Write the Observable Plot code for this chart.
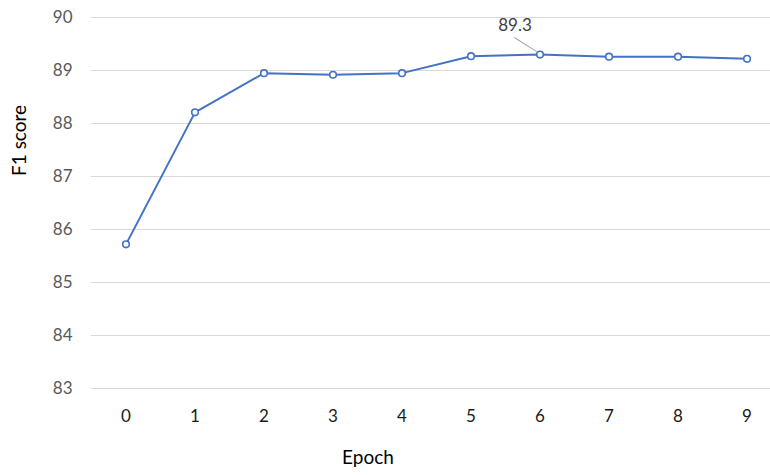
<!DOCTYPE html>
<html>
<head>
<meta charset="utf-8">
<script src="https://cdn.jsdelivr.net/npm/d3@7"></script>
<script src="https://cdn.jsdelivr.net/npm/@observablehq/plot@0.6"></script>
<style>
  html, body { margin: 0; padding: 0; background: #fff; }
  #chart svg { display: block; }
</style>
</head>
<body>
<div id="chart"></div>
<script>
const epochs = [0, 1, 2, 3, 4, 5, 6, 7, 8, 9];
const f1Scores = [85.72, 88.21, 88.95, 88.92, 88.95, 89.27, 89.30, 89.26, 89.26, 89.22];
const yTicks = [83, 84, 85, 86, 87, 88, 89, 90];
const xLabel = "Epoch";
const yLabel = "F1 score";
const peakLabel = "89.3";

const data = epochs.map((e, i) => ({epoch: e, f1: f1Scores[i]}));
const peak = data.reduce((a, b) => (b.f1 > a.f1 ? b : a));

const leader = {
  draw(context, l) {
    context.moveTo(0, 0);
    context.lineTo(0, -l);
  }
};

const chart = Plot.plot({
  width: 770,
  height: 475,
  marginLeft: 91,
  marginRight: 0,
  marginTop: 17,
  marginBottom: 87,
  style: {fontFamily: "Lato, sans-serif", background: "#fff"},
  x: {type: "linear", domain: [-0.5, 9.34], label: null},
  y: {domain: [83, 90], label: null},
  marks: [
    Plot.ruleY(yTicks, {stroke: "#d9d9d9", strokeWidth: 1}),
    Plot.axisX({ticks: epochs, tickSize: 0, tickPadding: 21, tickFormat: d => String(d), fontSize: 17, fill: "#1a1a1a", label: null}),
    Plot.axisY({ticks: yTicks, tickSize: 0, tickPadding: 19, tickFormat: d => String(d), fontSize: 17, fill: "#595959", label: null}),
    Plot.line(data, {x: "epoch", y: "f1", stroke: "#4472c4", strokeWidth: 2}),
    Plot.dot(data, {x: "epoch", y: "f1", r: 3.3, fill: "#fff", stroke: "#4472c4", strokeWidth: 1.6}),
    Plot.vector([peak], {x: "epoch", y: "f1", length: 27, rotate: -58, anchor: "start", shape: leader, stroke: "#a6a6a6", strokeWidth: 1, dx: -2.5, dy: -2.5}),
    Plot.text([peak], {x: "epoch", y: "f1", text: () => peakLabel, dx: -25, dy: -29, fontSize: 17, fill: "#404040"}),
    Plot.text([xLabel], {frameAnchor: "bottom", dx: -63, dy: 75, fontSize: 19, fill: "#000"}),
    Plot.text([yLabel], {frameAnchor: "left", rotate: -90, dx: -72, dy: -27, fontSize: 19, fill: "#000"})
  ]
});
document.getElementById("chart").appendChild(chart);
</script>
</body>
</html>
